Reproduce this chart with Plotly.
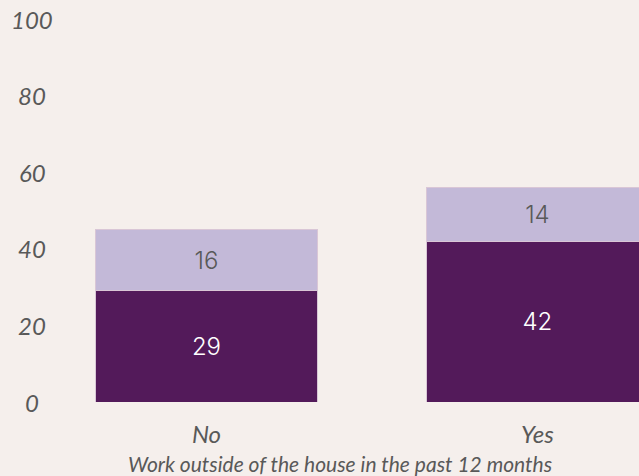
import plotly.graph_objects as go

categories = ["No", "Yes"]
dark_values = [29, 42]
light_values = [16, 14]
y_ticks = [0, 20, 40, 60, 80, 100]
x_title = "Work outside of the house in the past 12 months"

BG = "#F5EFEC"
DARK = "#531A5A"
LIGHT = "#C3B9D8"
GREY = "#595959"

fig = go.Figure()
fig.add_trace(go.Bar(
    x=categories, y=dark_values, marker=dict(color=DARK, line=dict(color="#D9C6D6", width=1)),
    text=[str(v) for v in dark_values], textposition="inside", insidetextanchor="middle",
    textfont=dict(color="white", size=24, family="Inter", weight=300), showlegend=False,
))
fig.add_trace(go.Bar(
    x=categories, y=light_values, marker=dict(color=LIGHT, line=dict(color="#D9C6D6", width=1)),
    text=[str(v) for v in light_values], textposition="inside", insidetextanchor="middle",
    textfont=dict(color=GREY, size=24, family="Inter", weight=300), showlegend=False,
))

for t in y_ticks:
    fig.add_annotation(x=-0.015, xref="paper", y=t, yref="y", text=f"<i>{t}</i>",
                       showarrow=False, xanchor="center", yanchor="middle",
                       font=dict(family="Lato", size=24, color=GREY))

fig.update_layout(
    width=639, height=476,
    barmode="stack", bargap=0.332,
    paper_bgcolor=BG, plot_bgcolor=BG,
    margin=dict(l=41, r=0, t=19, b=74),
    uniformtext=dict(mode="show", minsize=10),
    xaxis=dict(range=[-0.5, 1.307], showgrid=False, zeroline=False, showline=False,
               tickvals=categories, ticktext=[f"<i>{c}</i>" for c in categories],
               tickfont=dict(family="Lato", size=24, color=GREY), ticks="", ticklabelstandoff=16,
               title=dict(text=f"<i>{x_title}</i>", font=dict(family="Lato", size=21, color=GREY), standoff=11)),
    yaxis=dict(range=[0, 100], showgrid=False, zeroline=False, showline=False,
               tickvals=y_ticks, showticklabels=False, ticks=""),
)

fig.write_html("out.html", config={"displayModeBar": False},
               post_script="document.body.style.margin='0px';document.body.style.background='" + BG + "';")
